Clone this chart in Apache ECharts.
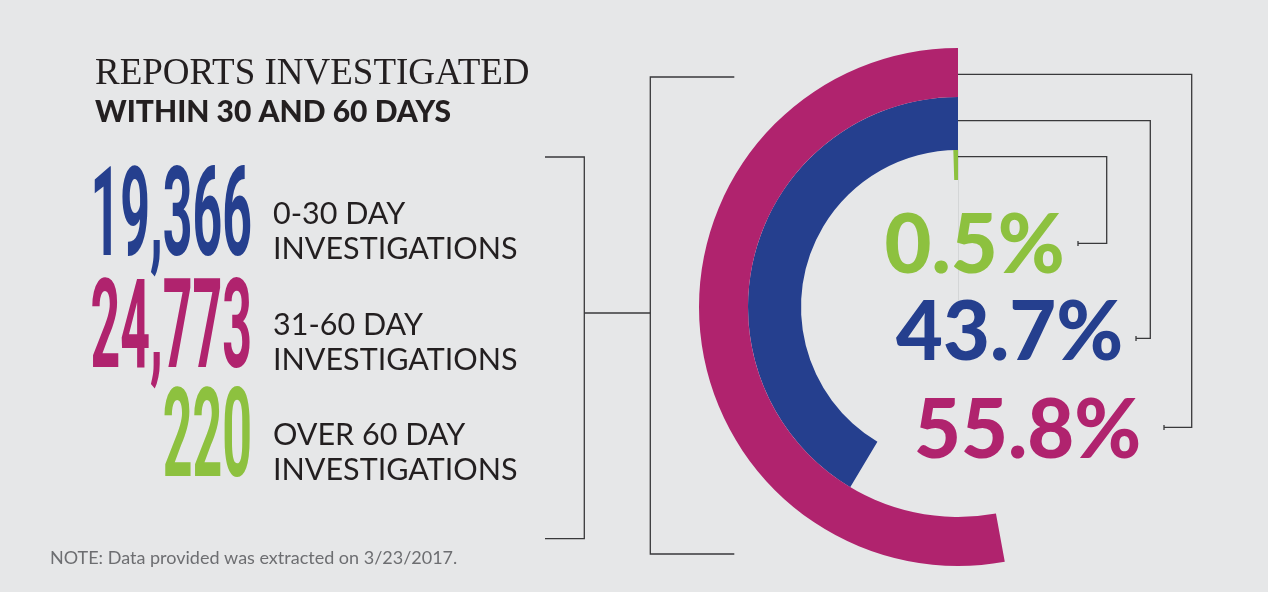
<!DOCTYPE html>
<html>
<head>
<meta charset="utf-8">
<script src="https://cdn.jsdelivr.net/npm/echarts@6/dist/echarts.min.js"></script>
<style>
html, body { margin: 0; padding: 0; background: #ffffff; }
#main { width: 1268px; height: 592px; }
</style>
</head>
<body>
<div id="main"></div>
<script>
// groups, counts and shares as printed on the picture
var groups = ['0-30 DAY', '31-60 DAY', 'OVER 60 DAY'];
var counts = [19366, 24773, 220];
var shares = [43.7, 55.8, 0.5];

var colors = ['#253f8e', '#b0236e', '#8dc13f'];
var ink = '#231f20';
var lineInk = '#39393b';

// ring radii (inner, outer) per group, and where each label sits
var ringRadius = [[157, 210], [210, 259], [127, 157]];
var rowY = [218, 329.5, 439];           // middle of the big numbers
var pctPos = [[896, 334], [914, 431.5], [884.6, 247]];
var center = [958, 307];
var angleMax = 105.5;                   // the picture's arcs are not true to 360 degrees

var graphics = [];

function text(x, y, str, font, fill, align, extra) {
    var el = {
        type: 'text', x: x, y: y, silent: true,
        style: { text: str, font: font, fill: fill, textAlign: align || 'left', textVerticalAlign: 'middle' }
    };
    for (var k in extra) el[k] = extra[k];
    graphics.push(el);
}
function poly(points, w) {
    graphics.push({
        type: 'polyline', silent: true,
        shape: { points: points },
        style: { stroke: lineInk, lineWidth: w || 1.3, fill: null }
    });
}

// titles
text(95, 74.5, 'REPORTS INVESTIGATED', '37px "Liberation Serif"', ink);
text(95, 112.5, 'WITHIN 30 AND 60 DAYS', '900 30px Lato', ink);

// left block: big numbers and group captions
for (var i = 0; i < groups.length; i++) {
    text(252, rowY[i] + 6, counts[i].toLocaleString('en-US'), '700 125px Roboto', colors[i], 'right', { scaleX: 0.415 });
    text(273, rowY[i] - 4, groups[i], '400 30.5px Lato', ink);
    text(273, rowY[i] + 31, 'INVESTIGATIONS', '400 30.5px Lato', ink);
    text(pctPos[i][0], pctPos[i][1], shares[i].toFixed(1) + '%', '900 81px Lato', colors[i]);
}

text(50, 558, 'NOTE: Data provided was extracted on 3/23/2017.', '400 18px Lato', '#6d6e71');

// brackets on the left
poly([[545, 157], [584.3, 157], [584.3, 538.7], [545, 538.7]]);
poly([[584.3, 313], [650.3, 313]]);
poly([[734.3, 77], [650.3, 77], [650.3, 554], [734.3, 554]]);

// leader lines on the right, one per ring
poly([[958, 74.3], [1191.7, 74.3], [1191.7, 427.3], [1164, 427.3]]);
poly([[1164, 425], [1164, 430]]);
poly([[958, 120.7], [1150.3, 120.7], [1150.3, 338.3], [1136, 338.3]]);
poly([[1136, 336], [1136, 341]]);
poly([[958, 156.7], [1106.7, 156.7], [1106.7, 243.3], [1078, 243.3]]);
poly([[1078, 241], [1078, 246]]);

// faint axis line under the green sliver
graphics.push({
    type: 'line', silent: true, z: -1,
    shape: { x1: 958.5, y1: 150, x2: 958.5, y2: 302 },
    style: { stroke: '#d4d6d7', lineWidth: 1 }
});

var option = {
    animation: false,
    backgroundColor: '#e6e7e8',
    polar: groups.map(function (g, i) {
        return { center: center, radius: ringRadius[i] };
    }),
    angleAxis: groups.map(function (g, i) {
        return {
            polarIndex: i, type: 'value', min: 0, max: angleMax,
            startAngle: 90, clockwise: false, show: false
        };
    }),
    radiusAxis: groups.map(function (g, i) {
        return { polarIndex: i, type: 'category', data: [g], show: false };
    }),
    series: groups.map(function (g, i) {
        return {
            name: g, type: 'bar', coordinateSystem: 'polar', polarIndex: i,
            data: [shares[i]], barWidth: '100%', silent: true,
            itemStyle: { color: colors[i] }
        };
    }),
    graphic: graphics
};

var chart = echarts.init(document.getElementById('main'));
chart.setOption(option);
</script>
</body>
</html>
